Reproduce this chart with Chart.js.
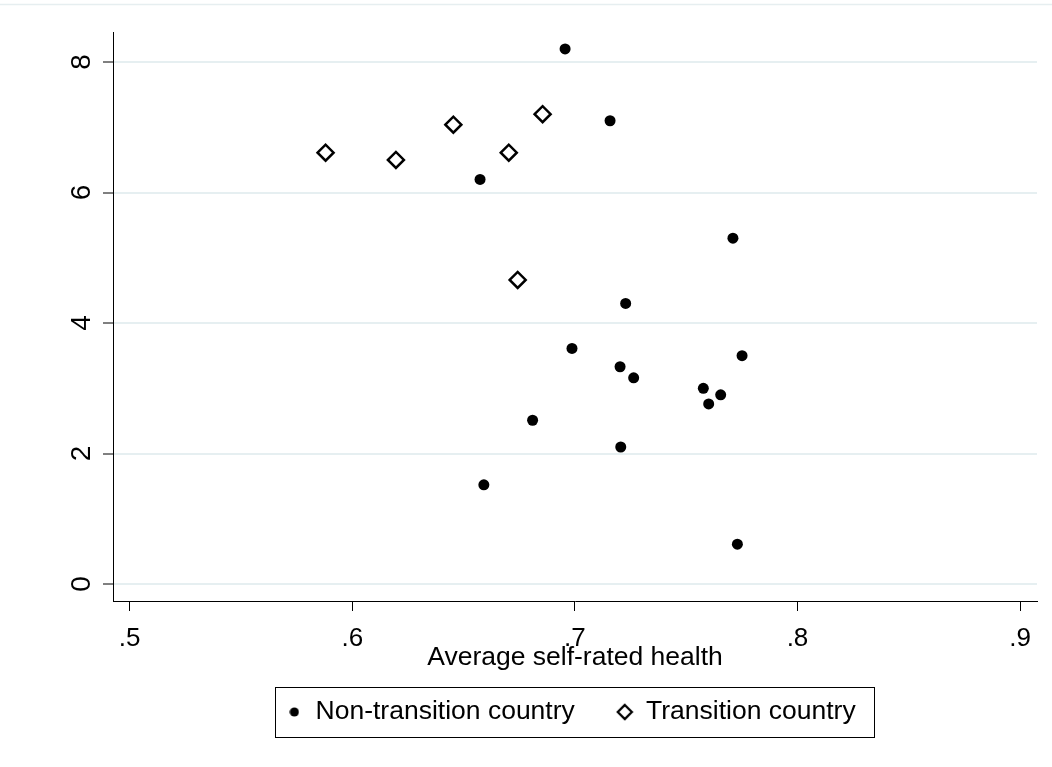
<!DOCTYPE html>
<html>
<head>
<meta charset="utf-8">
<script src="https://cdn.jsdelivr.net/npm/chart.js@4.4.1/dist/chart.umd.min.js"></script>
<style>
  html, body { margin: 0; padding: 0; background: #ffffff; }
  #c { display: block; }
</style>
</head>
<body>
<canvas id="c" width="1052" height="767"></canvas>
<script>
// ---- data ----
const nonTransitionX = [0.6956, 0.7158, 0.6574, 0.7710, 0.7228, 0.6987, 0.7203, 0.7264, 0.7577, 0.7655, 0.7601, 0.7751, 0.6810, 0.7206, 0.6591, 0.7730];
const nonTransitionY = [8.20, 7.10, 6.20, 5.30, 4.30, 3.61, 3.33, 3.16, 3.00, 2.90, 2.76, 3.50, 2.51, 2.10, 1.52, 0.61];
const transitionX = [0.5880, 0.6196, 0.6454, 0.6703, 0.6855, 0.6743];
const transitionY = [6.61, 6.50, 7.04, 6.61, 7.20, 4.66];

const seriesLabels = ['Non-transition country', 'Transition country'];
const xTitle = 'Average self-rated health';
const xTickValues = [0.5, 0.6, 0.7, 0.8, 0.9];
const xTickLabels = ['.5', '.6', '.7', '.8', '.9'];
const yTickValues = [0, 2, 4, 6, 8];
const yTickLabels = ['0', '2', '4', '6', '8'];

// ---- build datasets ----
const toPoints = (xs, ys) => xs.map((x, i) => ({ x: x, y: ys[i] }));

const FONT = '"Liberation Sans", Arial, Helvetica, sans-serif';
Chart.defaults.font.family = FONT;
Chart.defaults.color = '#000000';

const LEGEND_H = 80;
const LEGEND_TOP = 656.75;
const LEGEND_CX = 571;
const Y_LABEL_X = 82;

// small legend marker images (legend symbols only)
function makeMarker(kind) {
  const c = document.createElement('canvas');
  const size = kind === 'circle' ? 10 : 18;
  c.width = size; c.height = size;
  const g = c.getContext('2d');
  g.fillStyle = '#000'; g.strokeStyle = '#000';
  if (kind === 'circle') {
    g.beginPath(); g.arc(5, 5, 4.6, 0, Math.PI * 2); g.fill();
  } else {
    g.lineWidth = 2.3;
    g.beginPath();
    g.moveTo(9, 2); g.lineTo(16, 9); g.lineTo(9, 16); g.lineTo(2, 9); g.closePath();
    g.stroke();
  }
  return c;
}
const legendMarkers = [makeMarker('circle'), makeMarker('diamond')];

const layoutPlugin = {
  id: 'stataLayout',
  beforeUpdate(chart) {
    const lg = chart.legend;
    if (lg && !lg.__patched) {
      const f = lg.fit.bind(lg);
      lg.fit = function () { f(); this.height = LEGEND_H; };
      lg.__patched = true;
    }
  },
  afterLayout(chart) {
    const lg = chart.legend;
    if (!lg) return;
    const dx = LEGEND_CX - (lg.left + lg.right) / 2;
    lg.left += dx; lg.right += dx;
    const dy = LEGEND_TOP - lg.top;
    lg.top += dy; lg.bottom += dy;
  },
  beforeDraw(chart) {
    const ctx = chart.ctx;
    ctx.save();
    ctx.fillStyle = '#ffffff';
    ctx.fillRect(0, 0, chart.width, chart.height);
    ctx.strokeStyle = '#e6eef0';
    ctx.lineWidth = 1.5;
    ctx.beginPath();
    ctx.moveTo(0, 4.5);
    ctx.lineTo(chart.width, 4.5);
    ctx.stroke();
    ctx.restore();
  },
  afterDraw(chart) {
    const ctx = chart.ctx;
    const ys = chart.scales.y;
    ctx.save();
    ctx.font = '28px ' + FONT;
    ctx.fillStyle = '#000000';
    ctx.textAlign = 'center';
    ctx.textBaseline = 'middle';
    yTickValues.forEach((v, i) => {
      const py = ys.getPixelForValue(v);
      ctx.save();
      ctx.translate(Y_LABEL_X, py);
      ctx.rotate(-Math.PI / 2);
      ctx.fillText(yTickLabels[i], 0, 0);
      ctx.restore();
    });
    // legend frame
    ctx.strokeStyle = '#000000';
    ctx.lineWidth = 1;
    ctx.strokeRect(275.5, 687.5, 599, 50);
    ctx.restore();
  }
};

new Chart(document.getElementById('c'), {
  type: 'scatter',
  data: {
    datasets: [
      {
        label: seriesLabels[0],
        data: toPoints(nonTransitionX, nonTransitionY),
        pointStyle: 'circle',
        pointRadius: 5.5,
        pointHoverRadius: 5.5,
        backgroundColor: '#000000',
        borderColor: '#000000',
        borderWidth: 0
      },
      {
        label: seriesLabels[1],
        data: toPoints(transitionX, transitionY),
        pointStyle: 'rectRot',
        pointRadius: 8,
        pointHoverRadius: 8,
        backgroundColor: 'rgba(255,255,255,0)',
        borderColor: '#000000',
        borderWidth: 2.5
      }
    ]
  },
  options: {
    responsive: false,
    animation: false,
    devicePixelRatio: 1,
    layout: { padding: { left: 0, right: 15, top: 32, bottom: 0 } },
    plugins: {
      tooltip: { enabled: false },
      legend: {
        position: 'bottom',
        labels: {
          usePointStyle: true,
          boxWidth: 16,
          boxHeight: 8,
          padding: 42,
          color: '#000000',
          font: { size: 26.5, family: FONT },
          generateLabels: (chart) => {
            const items = Chart.defaults.plugins.legend.labels.generateLabels(chart);
            items.forEach((it, i) => { it.pointStyle = legendMarkers[i]; });
            return items;
          }
        }
      }
    },
    scales: {
      x: {
        type: 'linear',
        min: 0.4925,
        max: 0.9076,
        afterBuildTicks: (s) => { s.ticks = xTickValues.map(v => ({ value: v })); },
        afterFit: (s) => { s.height = 86; },
        ticks: {
          autoSkip: false,
          maxRotation: 0,
          padding: 12,
          color: '#000000',
          font: { size: 26, family: FONT },
          callback: (v, i) => xTickLabels[i]
        },
        grid: {
          drawOnChartArea: false,
          drawTicks: true,
          tickLength: 10,
          tickColor: '#000000',
          tickWidth: 1
        },
        border: { display: true, color: '#000000', width: 1 },
        title: {
          display: true,
          text: xTitle,
          color: '#000000',
          font: { size: 26.5, family: FONT },
          padding: { top: 0, bottom: 13 }
        }
      },
      y: {
        type: 'linear',
        min: -0.26,
        max: 8.46,
        afterBuildTicks: (s) => { s.ticks = yTickValues.map(v => ({ value: v })); },
        afterFit: (s) => { s.width = 113; },
        ticks: { display: false },
        grid: {
          drawOnChartArea: true,
          color: '#e6eff1',
          lineWidth: 2,
          drawTicks: true,
          tickLength: 10,
          tickColor: '#000000',
          tickWidth: 1
        },
        border: { display: true, color: '#000000', width: 1 }
      }
    }
  },
  plugins: [layoutPlugin]
});
</script>
</body>
</html>
